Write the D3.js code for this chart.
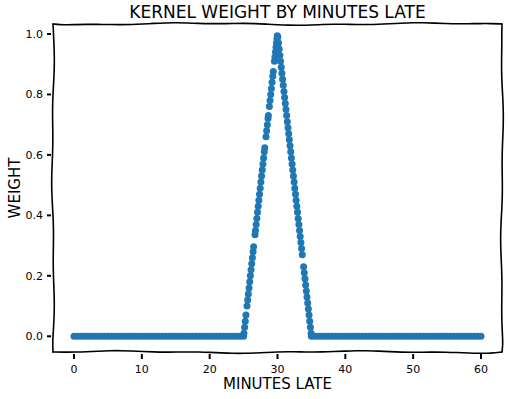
<!DOCTYPE html>
<html>
<head>
<meta charset="utf-8">
<script src="https://cdn.jsdelivr.net/npm/d3@7"></script>
<style>
  body { margin: 0; background: #fff; }
  text { font-family: "DejaVu Sans", sans-serif; fill: #000; }
</style>
</head>
<body>
<div id="chart"></div>
<script>
// zero-weight minutes (outside the kernel window)
var flatMinutes = [
  0, 0.5, 1, 1.5, 2, 2.5, 3, 3.5, 4, 4.5, 5, 5.5, 6, 6.5, 7, 7.5, 8, 8.5, 9, 9.5,
  10, 10.5, 11, 11.5, 12, 12.5, 13, 13.5, 14, 14.5, 15, 15.5, 16, 16.5, 17, 17.5,
  18, 18.5, 19, 19.5, 20, 20.5, 21, 21.5, 22, 22.5, 23, 23.5, 24, 24.5, 25,
  35, 35.5, 36, 36.5, 37, 37.5, 38, 38.5, 39, 39.5, 40, 40.5, 41, 41.5, 42, 42.5,
  43, 43.5, 44, 44.5, 45, 45.5, 46, 46.5, 47, 47.5, 48, 48.5, 49, 49.5, 50, 50.5,
  51, 51.5, 52, 52.5, 53, 53.5, 54, 54.5, 55, 55.5, 56, 56.5, 57, 57.5, 58, 58.5,
  59, 59.5, 60
];

// minutes inside the window and their weights
var peakMinutes = [
  25.05, 25.15, 25.25, 25.35, 25.5, 25.6, 25.7, 25.8, 25.9, 26.0,
  26.1, 26.2, 26.3, 26.4, 26.48, 26.68, 26.75, 26.85, 26.95, 27.05,
  27.15, 27.25, 27.35, 27.45, 27.55, 27.65, 27.75, 27.85, 27.95, 28.05,
  28.12, 28.3, 28.4, 28.5, 28.6, 28.65, 28.8, 28.9, 29.0, 29.1,
  29.2, 29.3, 29.38, 29.55, 29.62, 29.7, 29.78, 29.85, 29.92, 29.97,
  30.05, 30.15, 30.25, 30.35, 30.45, 30.55, 30.65, 30.75, 30.85, 30.95,
  31.05, 31.15, 31.25, 31.35, 31.45, 31.55, 31.65, 31.75, 31.85, 31.95,
  32.05, 32.15, 32.25, 32.35, 32.45, 32.55, 32.65, 32.75, 32.85, 32.95,
  33.05, 33.15, 33.25, 33.35, 33.45, 33.55, 33.65, 33.85, 33.95, 34.05,
  34.15, 34.25, 34.35, 34.45, 34.55, 34.65, 34.75, 34.85, 34.95
];
var peakWeights = [
  0.01, 0.03, 0.05, 0.07, 0.10, 0.12, 0.14, 0.16, 0.18, 0.20,
  0.22, 0.24, 0.26, 0.28, 0.296, 0.336, 0.35, 0.37, 0.39, 0.41,
  0.43, 0.45, 0.47, 0.49, 0.51, 0.53, 0.55, 0.57, 0.59, 0.61,
  0.624, 0.66, 0.68, 0.70, 0.72, 0.73, 0.76, 0.78, 0.80, 0.82,
  0.84, 0.86, 0.876, 0.91, 0.924, 0.94, 0.956, 0.97, 0.984, 0.994,
  0.99, 0.97, 0.95, 0.93, 0.91, 0.89, 0.87, 0.85, 0.83, 0.81,
  0.79, 0.77, 0.75, 0.73, 0.71, 0.69, 0.67, 0.65, 0.63, 0.61,
  0.59, 0.57, 0.55, 0.53, 0.51, 0.49, 0.47, 0.45, 0.43, 0.41,
  0.39, 0.37, 0.35, 0.33, 0.31, 0.29, 0.27, 0.23, 0.21, 0.19,
  0.17, 0.15, 0.13, 0.11, 0.09, 0.07, 0.05, 0.03, 0.01
];

var xTicks = [0, 10, 20, 30, 40, 50, 60];
var yTicks = [0.0, 0.2, 0.4, 0.6, 0.8, 1.0];

var width = 508, height = 399;
var margin = { top: 24, right: 6, bottom: 47, left: 53 };

var svg = d3.select("#chart")
  .append("svg")
  .attr("width", width)
  .attr("height", height);

var x = d3.scaleLinear().domain([-3.1, 63.1]).range([margin.left, width - margin.right]);
var y = d3.scaleLinear().domain([-0.052, 1.033]).range([height - margin.bottom, margin.top]);

// points list for the scatter
var pts = flatMinutes.map(function(m) { return [m, 0]; })
  .concat(peakMinutes.map(function(m, i) { return [m, peakWeights[i]]; }));

svg.append("g")
  .selectAll("circle")
  .data(pts)
  .enter()
  .append("circle")
  .attr("cx", function(d) { return x(d[0]); })
  .attr("cy", function(d) { return y(d[1]); })
  .attr("r", 3.5)
  .attr("fill", "#1f77b4");

// hand drawn looking line, wobble is only cosmetic
function wobbly(x1, y1, x2, y2, seed) {
  var n = 40, out = [];
  var len = Math.hypot(x2 - x1, y2 - y1);
  var nx = -(y2 - y1) / len, ny = (x2 - x1) / len;
  for (var i = 0; i <= n; i++) {
    var t = i / n;
    var off = 0.9 * Math.sin(t * len / 38 + seed) + 0.5 * Math.sin(t * len / 13 + seed * 2);
    if (i == 0 || i == n) off = 0;
    out.push([x1 + (x2 - x1) * t + nx * off, y1 + (y2 - y1) * t + ny * off]);
  }
  return d3.line().curve(d3.curveBasis)(out);
}

var L = margin.left, R = width - margin.right, T = margin.top, B = height - margin.bottom;
var frame = svg.append("g")
  .attr("fill", "none")
  .attr("stroke", "#000")
  .attr("stroke-width", 1.6)
  .attr("stroke-linecap", "round");
frame.append("path").attr("d", wobbly(L, T, R, T, 1));
frame.append("path").attr("d", wobbly(R, T, R, B, 2));
frame.append("path").attr("d", wobbly(L, B, R, B, 3));
frame.append("path").attr("d", wobbly(L, T, L, B, 4));

// ticks
var xt = svg.append("g");
xt.selectAll("line")
  .data(xTicks).enter().append("line")
  .attr("x1", function(d) { return x(d); })
  .attr("x2", function(d) { return x(d); })
  .attr("y1", B + 2).attr("y2", B + 7)
  .attr("stroke", "#000").attr("stroke-width", 2);
xt.selectAll("text")
  .data(xTicks).enter().append("text")
  .attr("x", function(d) { return x(d); })
  .attr("y", B + 21)
  .attr("text-anchor", "middle")
  .attr("font-size", 11)
  .text(function(d) { return d; });

var yt = svg.append("g");
yt.selectAll("line")
  .data(yTicks).enter().append("line")
  .attr("x1", L - 6).attr("x2", L - 2)
  .attr("y1", function(d) { return y(d); })
  .attr("y2", function(d) { return y(d); })
  .attr("stroke", "#000").attr("stroke-width", 2);
yt.selectAll("text")
  .data(yTicks).enter().append("text")
  .attr("x", L - 10)
  .attr("y", function(d) { return y(d); })
  .attr("dy", "0.35em")
  .attr("text-anchor", "end")
  .attr("font-size", 11)
  .text(function(d) { return d3.format(".1f")(d); });

// labels
svg.append("text")
  .attr("x", (L + R) / 2)
  .attr("y", 18)
  .attr("text-anchor", "middle")
  .attr("font-size", 17)
  .text("KERNEL WEIGHT BY MINUTES LATE");

svg.append("text")
  .attr("x", (L + R) / 2)
  .attr("y", 389)
  .attr("text-anchor", "middle")
  .attr("font-size", 15)
  .text("MINUTES LATE");

svg.append("text")
  .attr("transform", "translate(20," + ((T + B) / 2) + ") rotate(-90)")
  .attr("text-anchor", "middle")
  .attr("font-size", 15)
  .text("WEIGHT");
</script>
</body>
</html>
